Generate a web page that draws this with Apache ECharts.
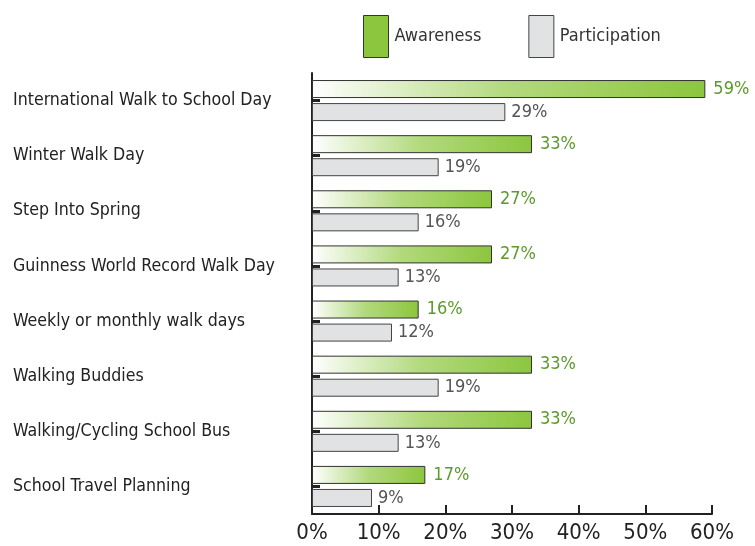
<!DOCTYPE html>
<html>
<head>
<meta charset="utf-8">
<title>Awareness and participation</title>
<script src="https://cdn.jsdelivr.net/npm/echarts@6/dist/echarts.min.js"></script>
<style>
  html, body { margin: 0; padding: 0; background: #fff; }
  #chart { width: 755px; height: 546px; }
</style>
</head>
<body>
<div id="chart"></div>
<script>
var categories = [
  'International Walk to School Day',
  'Winter Walk Day',
  'Step Into Spring',
  'Guinness World Record Walk Day',
  'Weekly or monthly walk days',
  'Walking Buddies',
  'Walking/Cycling School Bus',
  'School Travel Planning'
];
var awareness = [59, 33, 27, 27, 16, 33, 33, 17];
var participation = [29, 19, 16, 13, 12, 19, 13, 9];
var xTicks = [0, 10, 20, 30, 40, 50, 60];

var font = 'DejaVu Sans Condensed';
var chart = echarts.init(document.getElementById('chart'));

var greenFill = new echarts.graphic.LinearGradient(0, 0, 1, 0, [
  { offset: 0, color: '#ffffff' },
  { offset: 0.5, color: '#b2d97c' },
  { offset: 1, color: '#8cc63e' }
]);

chart.setOption({
  animation: false,
  textStyle: { fontFamily: font },
  legend: {
    top: 10,
    left: 358,
    icon: 'rect',
    itemWidth: 25,
    itemHeight: 42,
    itemGap: 47,
    textStyle: { fontSize: 18, color: '#333', fontFamily: font, padding: [0, 0, 0, 1] },
    data: [
      { name: 'Awareness', itemStyle: { color: '#8cc63e', borderColor: '#333', borderWidth: 1 } },
      { name: 'Participation', itemStyle: { color: '#e1e2e4', borderColor: '#444', borderWidth: 1 } }
    ]
  },
  grid: { left: 312, right: 43, top: 73, bottom: 32 },
  xAxis: {
    type: 'value',
    min: 0, max: 60, interval: 10,
    axisLine: { show: true, lineStyle: { color: '#222', width: 2 } },
    axisTick: { show: true, inside: true, length: 9, lineStyle: { color: '#222', width: 2 } },
    splitLine: { show: false },
    axisLabel: {
      formatter: function (v) { return xTicks.indexOf(v) >= 0 ? v + '%' : ''; },
      fontSize: 22, color: '#222', fontFamily: font, margin: 8
    }
  },
  yAxis: {
    type: 'category',
    inverse: true,
    data: categories,
    axisLine: { show: true, lineStyle: { color: '#222', width: 2 } },
    axisTick: { show: true, inside: true, alignWithLabel: true, length: 8, lineStyle: { color: '#222', width: 3 } },
    axisLabel: {
      align: 'left', margin: 299,
      fontSize: 17.6, color: '#222', fontFamily: font
    }
  },
  series: [
    {
      name: 'Awareness', type: 'bar', data: awareness,
      barWidth: 18, barGap: '28%',
      itemStyle: { color: greenFill, borderColor: '#333', borderWidth: 1 },
      label: { show: true, position: 'right', distance: 8, formatter: '{c}%', fontSize: 18, color: '#5c9a2c', fontFamily: font }
    },
    {
      name: 'Participation', type: 'bar', data: participation,
      barWidth: 18,
      itemStyle: { color: '#e1e2e4', borderColor: '#444', borderWidth: 1 },
      label: { show: true, position: 'right', distance: 6, formatter: '{c}%', fontSize: 18, color: '#555', fontFamily: font }
    }
  ]
});
</script>
</body>
</html>
